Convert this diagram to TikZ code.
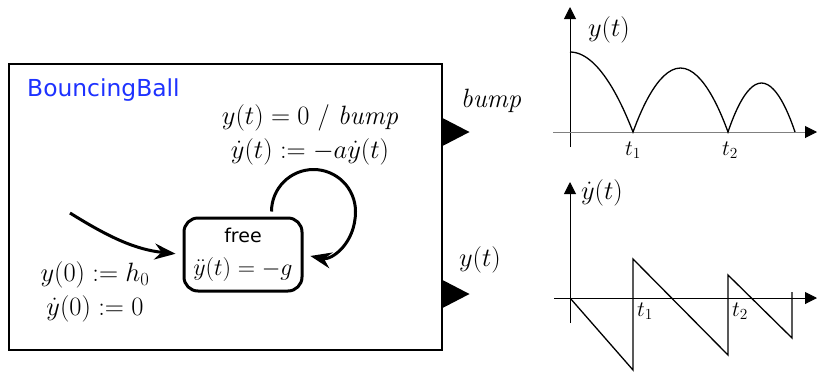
\RequirePackage{fix-cm}
\documentclass[tikz,border=0pt]{standalone}
\usepackage{fontspec}
\newfontfamily\uisans{DejaVu Sans}
\usepackage{tikz}
\usetikzlibrary{arrows.meta,positioning}
\definecolor{bbInk}{HTML}{000000}
\definecolor{bbBlue}{HTML}{1E32FF}
\definecolor{bbAxisGray}{HTML}{808080}
\tikzset{
  bbBlock/.style={draw=bbInk,line width=1.5pt,inner sep=0pt},
  bbState/.style={draw=bbInk,line width=3pt,rounded corners=14pt,align=center,
    minimum width=118pt,minimum height=73pt,inner sep=2pt,
    font=\fontsize{24}{33}\selectfont},
  bbTrans/.style={draw=bbInk,line width=3pt,
    -{Stealth[length=21pt,width=16pt,inset=7pt]}},
  bbPort/.style={fill=bbInk},
  bbAxis/.style={draw=bbInk,line width=1pt,-{Triangle[length=12pt,width=12pt,bbInk]}},
  bbSignal/.style={draw=bbInk,line width=1.3pt}
}

\begin{document}
\begin{tikzpicture}[x=1pt,y=1pt,
  font=\fontsize{26.5}{34}\selectfont,
  lbl/.style={inner sep=0pt,align=center},
  tick/.style={inner sep=0pt,font=\fontsize{22}{24}\selectfont}]
\useasboundingbox (0,0) rectangle (817,-373);
\node[bbBlock,anchor=north west,minimum width=433pt,minimum height=286pt] (ball) at (8,-63) {};
\node[lbl,anchor=west,text=bbBlue,font=\uisans\fontsize{23.4}{28}\selectfont] (name) at (27,-90) {BouncingBall};
\node[bbState] (free) at (243,-254.5) {{\uisans\fontsize{19}{23}\selectfont free}\\$\ddot{y}(t)=-g$};
\node[lbl] (guard) at (310,-135) {$y(t)=0$ / \textit{bump}\\$\dot{y}(t):=-a\dot{y}(t)$};
\node[lbl] (init) at (95,-292) {$y(0):=h_0$\\$\dot{y}(0):=0$};
\coordinate (initStart) at (70,-213);
\draw[bbTrans,shorten >=7pt] (initStart) to[out=-32,in=174] (free.west);
\draw[bbTrans,shorten >=7pt] ([xshift=-32pt,yshift=5pt]free.north east)
  arc[start angle=180,end angle=0,radius=42pt]
  .. controls +(0,-32) and +(28,-6) .. (free.east);
\coordinate (bumpPort) at (ball.east |- 0,-132);
\coordinate (yPort) at (ball.east |- 0,-294);
\fill[bbPort] (bumpPort) ++(0,14) -- ++(27,-14) -- ++(-27,-14) -- cycle;
\fill[bbPort] (yPort) ++(0,14) -- ++(27,-14) -- ++(-27,-14) -- cycle;
\node[lbl] (bumpLabel) at (491,-101) {\textit{bump}};
\node[lbl] (yLabel) at (480,-260) {$y(t)$};
% position plot
\draw[bbAxis] (570,-147) -- (570,-7);
\draw[bbAxis,draw=bbAxisGray] (553,-132) -- (817,-132);
\node[lbl] (posLabel) at (609,-30) {$y(t)$};
\node[lbl] (posTime) at (824,-111) {$t$};
\draw[bbSignal] (570,-52) parabola (633,-132)
  parabola bend (680.5,-68) (728,-132)
  parabola bend (761.5,-83) (795,-132);
\node[tick] (posT1) at (633,-150) {$t_1$};
\node[tick] (posT2) at (730,-150) {$t_2$};
% velocity plot
\draw[bbAxis] (570,-323) -- (570,-182);
\draw[bbAxis] (554,-298) -- (817,-298);
\node[lbl] (velLabel) at (602,-193) {$\dot{y}(t)$};
\node[lbl] (velTime) at (824,-287) {$t$};
\draw[bbSignal] (570,-298) -- (633,-370) -- (633,-259) -- (728,-355)
  -- (728,-275) -- (792,-338) -- (792,-292);
\node[tick] (velT1) at (645,-311) {$t_1$};
\node[tick] (velT2) at (740,-311) {$t_2$};
\end{tikzpicture}
\end{document}
